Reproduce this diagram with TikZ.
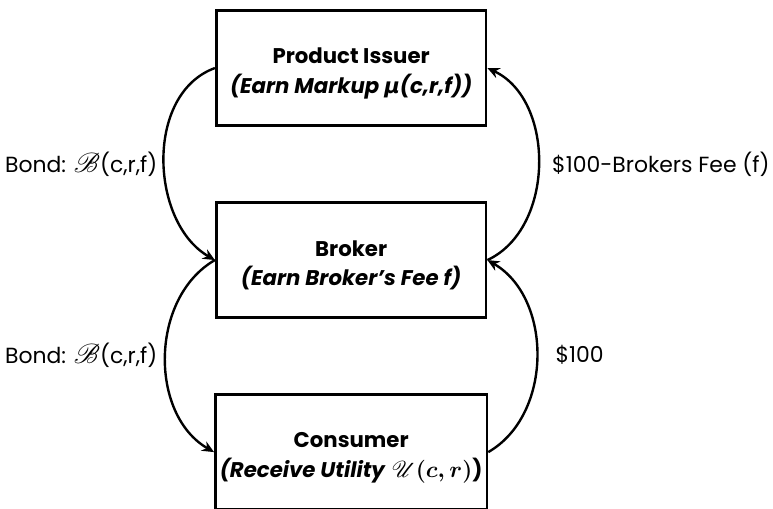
\documentclass[tikz,border=0pt]{standalone}
\usepackage{fontspec}
\setmainfont{Poppins}
\newfontfamily\greekfont{DejaVu Sans}
\usepackage{mathrsfs}
\usetikzlibrary{arrows.meta}

\newcommand{\scriptbig}[1]{{\fontsize{20}{20}\selectfont$\mathscr{#1}$}}

\tikzset{
  party/.style={draw,line width=2pt,minimum width=7.14cm,minimum height=3.04cm,align=center,font=\fontsize{16}{22}\selectfont},
  flow/.style={line width=1.8pt,-{Stealth[length=9pt,width=8pt]}},
  flowlabel/.style={font=\fontsize{16.5}{19}\selectfont,anchor=west,inner sep=0pt}
}

\begin{document}
\begin{tikzpicture}
                \useasboundingbox (0,0) rectangle (20.45,-13.44);
                \node[party] (issuer) at (9.29,-1.80) {\rule{0pt}{20pt}\textbf{Product Issuer}\\\textbf{\itshape (Earn Markup {\greekfont μ}(c,r,f))}};
                \node[party] (broker) at (9.29,-6.88) {\rule{0pt}{20pt}\textbf{Broker}\\\textbf{\itshape (Earn Broker’s Fee f)}};
                \node[party] (consumer) at (9.29,-11.96) {\rule{0pt}{20pt}\textbf{Consumer}\\\textbf{\itshape (Receive Utility} {\fontsize{19}{19}\selectfont\boldmath$\mathscr{U}(c,r)$}\textbf{)}};
                \draw[flow] (issuer.west) to[out=200,in=150] (broker.west);
                \draw[flow] (broker.west) to[out=210,in=150] (consumer.west);
                \draw[flow] (broker.east) to[out=25,in=-25] (issuer.east);
                \draw[flow] (consumer.east) to[out=30,in=-30] (broker.east);
                \node[flowlabel] (bondtop) at (0.13,-4.34) {Bond: \scriptbig{B}(c,r,f)};
                \node[flowlabel] (bondlow) at (0.13,-9.39) {Bond: \scriptbig{B}(c,r,f)};
                \node[flowlabel] (netpay) at (14.6,-4.34) {\$100-Brokers Fee (f)};
                \node[flowlabel] (pay) at (14.69,-9.39) {\$100};
            \end{tikzpicture}
\end{document}
